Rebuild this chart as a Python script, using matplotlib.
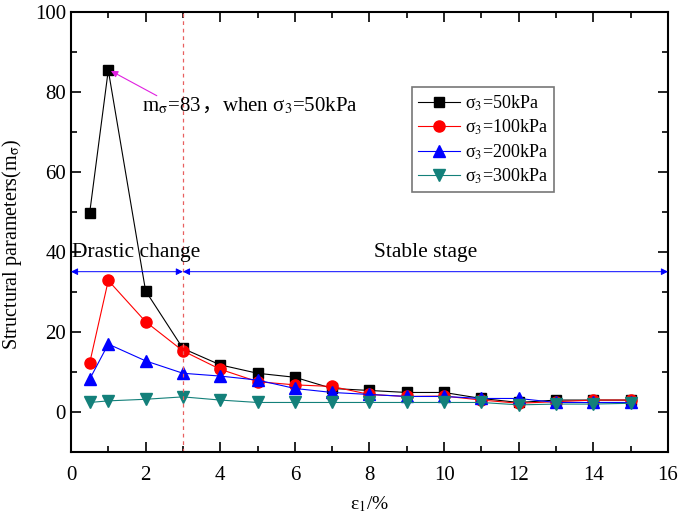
import matplotlib
matplotlib.use("Agg")
import matplotlib.pyplot as plt
from matplotlib.ticker import MultipleLocator

plt.rcParams['font.family'] = ['Liberation Serif', 'Noto Sans CJK SC', 'DejaVu Serif']
plt.rcParams['mathtext.fontset'] = 'stix'

strain = [0.5, 1, 2, 3, 4, 5, 6, 7, 8, 9, 10, 11, 12, 13, 14, 15]
m_50 = [49.6, 85.4, 30.2, 15.8, 11.7, 9.6, 8.6, 5.8, 5.3, 4.8, 4.8, 3.3, 2.3, 2.9, 2.9, 2.9]
m_100 = [12.1, 32.8, 22.5, 15.2, 10.6, 7.5, 6.7, 6.3, 4.3, 3.8, 3.9, 2.9, 2.1, 2.5, 2.9, 2.9]
m_200 = [8.1, 16.9, 12.7, 9.6, 8.9, 7.9, 5.8, 4.8, 4.3, 3.8, 3.8, 3.3, 3.3, 2.3, 2.3, 2.3]
m_300 = [2.3, 2.7, 3.1, 3.7, 2.9, 2.3, 2.3, 2.3, 2.3, 2.3, 2.3, 2.3, 1.7, 1.9, 1.9, 2.1]

labels = ['σ$_3$=50kPa', 'σ$_3$=100kPa', 'σ$_3$=200kPa', 'σ$_3$=300kPa']

fig = plt.figure(figsize=(6.85, 5.23), dpi=100)
ax = fig.add_axes([0.1036, 0.1364, 0.8716, 0.8412])

ax.plot(strain, m_50, color='black', lw=0.8, marker='s', ms=7, label=labels[0])
ax.plot(strain, m_100, color='red', lw=0.8, marker='o', ms=8, label=labels[1])
ax.plot(strain, m_200, color='blue', lw=0.8, marker='^', ms=8, label=labels[2])
ax.plot(strain, m_300, color='#13807a', lw=0.8, marker='v', ms=8, label=labels[3])

# boundary between the two stages
ax.axvline(3, color='#e86060', ls=(0, (3, 3)), lw=0.9)

# stage arrows
for x0, x1 in [(0, 3), (3, 16)]:
    ax.annotate('', xy=(x0, 35), xytext=(x1, 35),
                arrowprops=dict(arrowstyle='<|-|>', color='blue', lw=0.7, mutation_scale=10,
                                shrinkA=0, shrinkB=0))
ax.text(0.02, 39.8, 'Drastic change', fontsize=15.5, va='center', ha='left')
ax.text(9.5, 39.8, 'Stable stage', fontsize=15.5, va='center', ha='center')

# peak annotation, pieces placed one after another so the full-width comma gets a CJK font
ax.annotate('', xy=(1.07, 85.2), xytext=(2.3, 79),
            arrowprops=dict(arrowstyle='-|>', color='#e020e0', lw=0.8, mutation_scale=10,
                            shrinkA=0, shrinkB=0))
parts = ['m$_\\mathrm{σ}$=83', '，', 'when σ$_3$=50kPa']
fig.canvas.draw()
renderer = fig.canvas.get_renderer()
x_disp = ax.transData.transform((1.9, 75))
for p in parts:
    xd = ax.transData.inverted().transform(x_disp)
    t = ax.text(xd[0], 75, p, fontsize=15, va='baseline', ha='left')
    w = t.get_window_extent(renderer).width
    x_disp = (x_disp[0] + w, x_disp[1])

ax.set_xlim(0, 16)
ax.set_ylim(-10, 100)
ax.xaxis.set_major_locator(MultipleLocator(2))
ax.xaxis.set_minor_locator(MultipleLocator(1))
ax.yaxis.set_major_locator(MultipleLocator(20))
ax.yaxis.set_minor_locator(MultipleLocator(10))
ax.tick_params(which='both', direction='in', top=True, right=True, labelsize=15, width=1.2)
ax.tick_params(which='major', length=7)
ax.tick_params(which='minor', length=4)
ax.tick_params(axis='x', pad=10)
for s in ax.spines.values():
    s.set_linewidth(1.5)

ax.set_xlabel('ε$_1$/%', fontsize=14, labelpad=7)
ax.set_ylabel('Structural parameters(m$_\\mathrm{σ}$)', fontsize=14.5)
ax.yaxis.set_label_coords(-0.078, 0.472)

leg = ax.legend(loc='upper left', bbox_to_anchor=(0.571, 0.829), fontsize=13, frameon=True,
                fancybox=False, edgecolor='#555555', handlelength=2.3, handletextpad=0.3,
                borderpad=0.35, labelspacing=0.28, borderaxespad=0)
leg.get_frame().set_linewidth(1.2)

fig.savefig('out.png', dpi=100)
